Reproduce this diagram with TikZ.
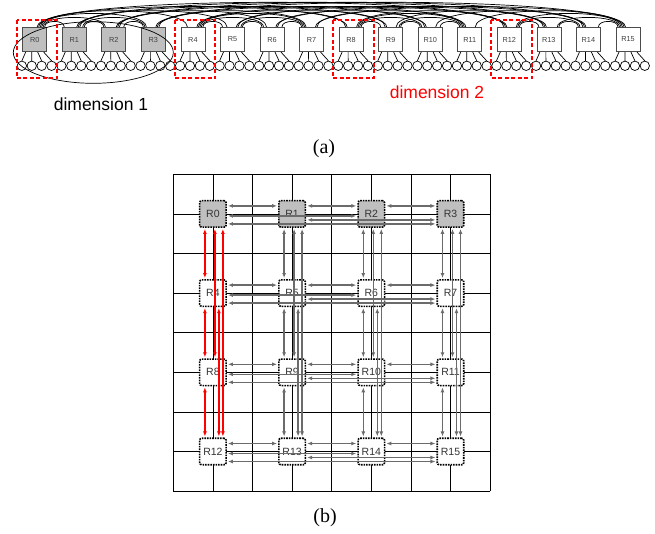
\documentclass[tikz,border=0pt]{standalone}
\usepackage{fontspec}
\setmainfont{Liberation Serif}
\setsansfont{Liberation Sans}
\usetikzlibrary{arrows.meta,calc,positioning}

\begin{document}
\begin{tikzpicture}[
    x=1pt, y=-1pt,
    router/.style={rectangle, draw=black!70, line width=0.7pt, minimum width=24pt, minimum height=24.5pt, inner sep=0pt, font=\sffamily\fontsize{7.3}{8}\selectfont, text=black!75},
    term/.style={circle, draw, line width=0.7pt, minimum size=9.4pt, inner sep=0pt},
    wire/.style={line width=0.7pt},
    group/.style={draw=red, line width=2pt, dash pattern=on 4pt off 2.5pt},
    mrouter/.style={rectangle, rounded corners=2pt, draw=black, line width=1.6pt, densely dotted, minimum size=26.5pt, inner sep=0pt, font=\sffamily\fontsize{10.5}{12}\selectfont, text=black!80},
    link/.style={{Latex[length=5pt,width=4pt]}-{Latex[length=5pt,width=4pt]}, line width=1.4pt, draw=black!58, shorten <=1pt, shorten >=1pt},
    redlink/.style={link, draw=red},
    dimlabel/.style={font=\sffamily\fontsize{17.5}{20}\selectfont},
    caption/.style={font=\fontsize{20}{24}\selectfont}
]
    \useasboundingbox (0,0) rectangle (655,533);

    % (a) routers in a row, four terminals each
    \foreach \i in {0,...,15} {
        \pgfmathsetmacro\rx{34.7+39.55*\i}
        \ifnum\i<4 \def\rfill{gray!50}\else\def\rfill{white}\fi
        \node[router, fill=\rfill] (a\i) at (\rx,39.5) {R\i};
        \foreach \k in {0,...,3} {
            \pgfmathsetmacro\tx{\rx+2+9.89*\k-14.83}
            \node[term] (t\i-\k) at (\tx,65.8) {};
            \draw[wire] ($(a\i.south)+(6*\k-9,0)$) -- (t\i-\k.north);
        }
    }

    % (a) links of both dimensions
    \foreach \g in {0,...,3} {
        \foreach \p/\q in {0/1,0/2,0/3,1/2,1/3,2/3} {
            \pgfmathtruncatemacro\ii{4*\g+\p}
            \pgfmathtruncatemacro\jj{4*\g+\q}
            \pgfmathsetmacro\off{11.5-1.5*(\q-\p)}
            \pgfmathsetmacro\lift{(1.5+4*(\q-\p))/0.75}
            \draw[wire] ($(a\ii.north)+(\off,0)$) .. controls +(0,-\lift) and +(0,-\lift) .. ($(a\jj.north)+(-\off,0)$);
            \pgfmathtruncatemacro\ii{\g+4*\p}
            \pgfmathtruncatemacro\jj{\g+4*\q}
            \pgfmathsetmacro\off{7-1.5*(\q-\p)}
            \pgfmathsetmacro\lift{(12+4.2*(\q-\p))/0.75}
            \draw[wire] ($(a\ii.north)+(\off,0)$) .. controls +(0,-\lift) and +(0,-\lift) .. ($(a\jj.north)+(-\off,0)$);
        }
    }

    % dimension marks
    \draw[wire] (93.3,52.5) ellipse [x radius=80, y radius=30.8];
    \foreach \i in {0,4,8,12}
        \draw[group] ($(a\i)+(-18,-19.5)$) rectangle ($(a\i)+(22.5,38.8)$);
    \node[dimlabel] (dim1) at (101,104) {dimension 1};
    \node[dimlabel, text=red] (dim2) at (437,92.5) {dimension 2};
    \node[caption] (capa) at (324,149) {(a)};

    % (b) grid
    \foreach \n in {0,...,8} {
        \pgfmathsetmacro\gx{173.3+39.6*\n}
        \pgfmathsetmacro\gy{174.3+39.6*\n}
        \draw[wire] (\gx,174.3) -- (\gx,491.1);
        \draw[wire] (173.3,\gy) -- (490.1,\gy);
    }

    % (b) routers
    \foreach \r in {0,...,3} {
        \foreach \c in {0,...,3} {
            \pgfmathtruncatemacro\id{4*\r+\c}
            \pgfmathsetmacro\mx{173.3+39.6*(2*\c+1)}
            \pgfmathsetmacro\my{174.3+39.6*(2*\r+1)}
            \ifnum\r=0 \def\rfill{gray!50}\else\def\rfill{white}\fi
            \node[mrouter, fill=\rfill] (b\id) at (\mx,\my) {R\id};
        }
    }

    % (b) row and column links
    \foreach \p/\q/\o in {0/1/-8,1/2/-8,2/3/-8,0/2/2,1/3/6,0/3/10} {
        \foreach \r in {0,...,3} {
            \pgfmathtruncatemacro\ii{4*\r+\p}
            \pgfmathtruncatemacro\jj{4*\r+\q}
            \draw[link] ($(b\ii.east)+(0,\o)$) -- ($(b\jj.west)+(0,\o)$);
            \pgfmathtruncatemacro\ii{\r+4*\p}
            \pgfmathtruncatemacro\jj{\r+4*\q}
            \ifnum\r=0 \def\lk{redlink}\else\def\lk{link}\fi
            \draw[\lk] ($(b\ii.south)+(\o,0)$) -- ($(b\jj.north)+(\o,0)$);
        }
    }

    \node[caption] (capb) at (325,518) {(b)};
\end{tikzpicture}
\end{document}
